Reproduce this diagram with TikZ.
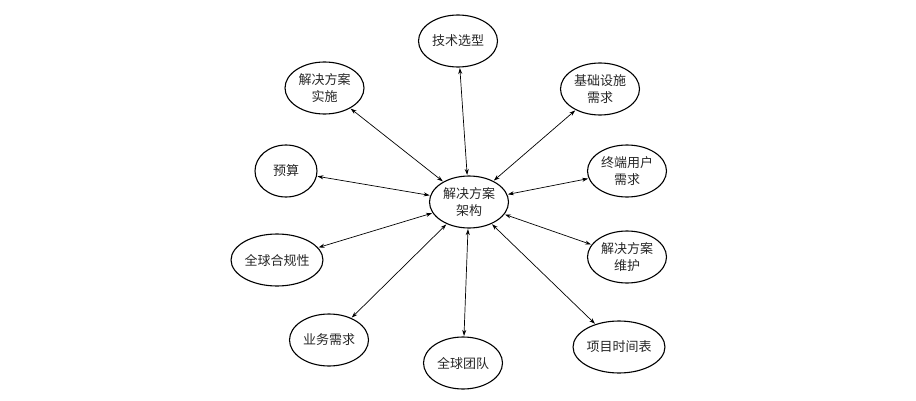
\documentclass[tikz,border=0pt]{standalone}
\usepackage{fontspec}
\setmainfont{Noto Sans CJK SC}
\usetikzlibrary{shapes.geometric,arrows.meta}
\begin{document}
\begin{tikzpicture}[x=1pt,y=1pt,
  topic/.style={ellipse,draw,line width=1.1pt,inner sep=0pt,minimum width=79pt,minimum height=52pt,
    font=\fontsize{13}{17.5}\selectfont,align=center,text=black!85},
  link/.style={line width=0.7pt,{Stealth[length=6pt,width=4pt]}-{Stealth[length=6pt,width=4pt]},shorten <=0.5pt,shorten >=0.5pt}]
\useasboundingbox (0,0) rectangle (916,400);
\node[topic] (c) at (469,198) {解决方案\\架构};
\node[topic] (tech) at (458,359) {技术选型};
\node[topic] (impl) at (324.5,312) {解决方案\\实施};
\node[topic] (infra) at (600,311) {基础设施\\需求};
\node[topic,minimum width=62pt] (budget) at (286,229) {预算};
\node[topic] (user) at (627,229) {终端用户\\需求};
\node[topic,minimum width=80pt] (comp) at (277,140) {全球合规性};
\node[topic] (maint) at (627,143) {解决方案\\维护};
\node[topic] (biz) at (329,60) {业务需求};
\node[topic] (team) at (463,37) {全球团队};
\node[topic] (sched) at (619,53) {项目时间表};
\foreach \n in {tech,impl,infra,budget,user,comp,maint,biz,team,sched}
  \draw[link] (c) -- (\n);
\end{tikzpicture}
\end{document}
